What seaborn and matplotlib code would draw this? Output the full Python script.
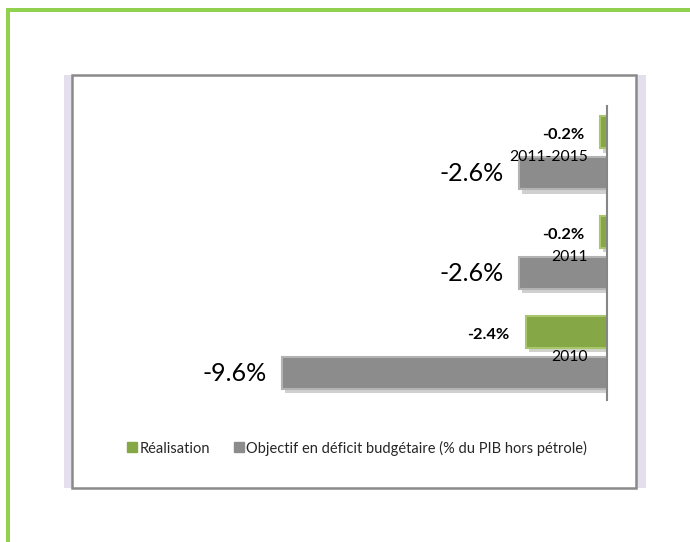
import matplotlib
matplotlib.use("Agg")
import matplotlib.pyplot as plt
import matplotlib.patheffects as pe
from matplotlib.patches import Rectangle
from matplotlib.lines import Line2D
import seaborn as sns
import pandas as pd

categories = ["2011-2015", "2011", "2010"]
realisation = [-0.2, -0.2, -2.4]
objectif = [-2.6, -2.6, -9.6]
series_names = ["Réalisation", "Objectif en déficit budgétaire (% du PIB hors pétrole)"]

df = pd.DataFrame({
    "cat": categories * 2,
    "val": realisation + objectif,
    "serie": [series_names[0]] * 3 + [series_names[1]] * 3,
})

sns.set_style("white")
plt.rcParams["font.family"] = ["Lato", "DejaVu Sans"]

W, H = 690, 542
fig = plt.figure(figsize=(W / 100, H / 100), dpi=100)

def fx(px):
    return px / W

def fy(py):
    return 1 - py / H

# green frame
fig.add_artist(Rectangle((fx(6), fy(12)), fx(690) - fx(6), fy(8) - fy(12),
                         transform=fig.transFigure, color="#92d050", lw=0))
fig.add_artist(Rectangle((fx(6), fy(542)), fx(10) - fx(6), fy(8) - fy(542),
                         transform=fig.transFigure, color="#92d050", lw=0))
# chart box: lavender backing + white box with gray border
box_top, box_bot = 75, 488
fig.add_artist(Rectangle((fx(64), fy(box_bot)), fx(646) - fx(64), fy(box_top) - fy(box_bot),
                         transform=fig.transFigure, facecolor="#e4dfec", lw=0, zorder=0))
fig.add_artist(Rectangle((fx(72), fy(box_bot)), fx(636) - fx(72), fy(box_top) - fy(box_bot),
                         transform=fig.transFigure, facecolor="white", edgecolor="#8a8a8a",
                         lw=1.8, zorder=0.5))

# axes: x from 100px to 607px, y from 106 to 400
ax_left, ax_right, ax_top, ax_bot = 100, 607, 106, 400
ax = fig.add_axes([fx(ax_left), fy(ax_bot), fx(ax_right) - fx(ax_left), fy(ax_top) - fy(ax_bot)])
ax.set_zorder(2)
ax.patch.set_alpha(0)

palette = {series_names[0]: "#86a746", series_names[1]: "#8c8c8c"}
sns.barplot(data=df, x="val", y="cat", hue="serie", order=categories,
            hue_order=series_names, palette=palette, orient="h",
            width=0.82, gap=0.22, saturation=1, legend=False, ax=ax)

scale = (607 - 282) / 9.6
xmin = -(ax_right - ax_left) / scale
ax.set_xlim(xmin, 0)
ax.set_ylim(2.475, -0.47)

edge_cols = ["#a9c66d", "#b3b3b3"]
for cont, ec in zip(ax.containers, edge_cols):
    for bar in cont:
        bar.set_edgecolor(ec)
        bar.set_linewidth(1.5)
        bar.set_path_effects([pe.SimplePatchShadow(offset=(2, -3), alpha=0.22), pe.Normal()])

green_labels = ax.bar_label(ax.containers[0], labels=[f"{v:.1f}%" for v in realisation],
                            padding=11.5, fontsize=11.8, fontweight="bold", color="black")
for t in green_labels:
    x0, y0 = t.xyann
    t.xyann = (x0, y0 - 2)
ax.bar_label(ax.containers[1], labels=[f"{v:.1f}%" for v in objectif],
             padding=11, fontsize=18, color="black")

for sp in ["top", "left", "bottom"]:
    ax.spines[sp].set_visible(False)
ax.spines["right"].set_visible(True)
ax.spines["right"].set_color("#868686")
ax.spines["right"].set_linewidth(1.5)
ax.set_xticks([])
ax.set_yticks([])
ax.set_xlabel("")
ax.set_ylabel("")

for i, c in enumerate(categories):
    ax.annotate(c, xy=(0, i), xytext=(-19, -4), textcoords="offset pixels",
                ha="right", va="center", fontsize=11.3, color="black")

# legend
handles = [Line2D([], [], marker="s", linestyle="", markersize=7,
                  markerfacecolor=palette[s], markeredgecolor=palette[s]) for s in series_names]
fig.legend(handles, series_names, loc="center", bbox_to_anchor=(fx(357), fy(448)),
           ncol=2, frameon=False, fontsize=10.5, handlelength=0.7, handletextpad=0.15,
           columnspacing=1.6)

fig.savefig("out.png", dpi=100)
